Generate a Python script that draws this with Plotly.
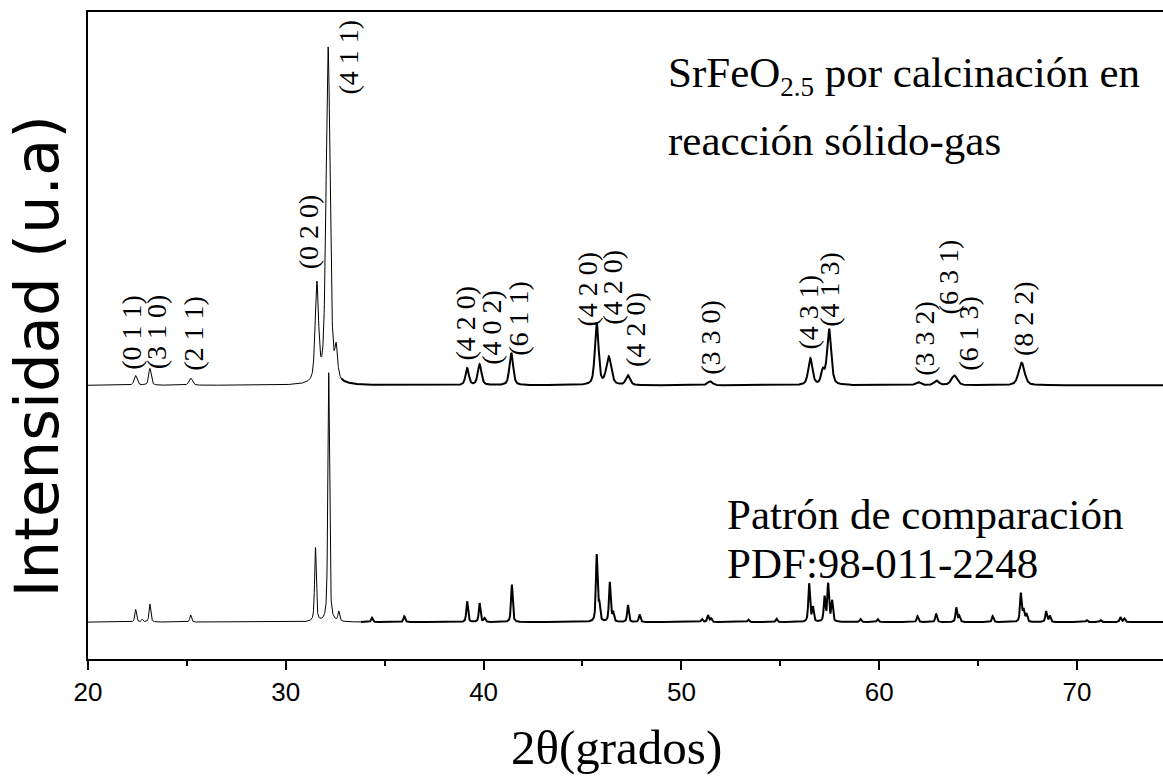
import numpy as np
import plotly.graph_objects as go

# ---- data -------------------------------------------------------------
# 2θ axis (degrees)
two_theta = np.arange(20.0, 74.40, 0.01)

# SrFeO2.5 sample obtained by solid–gas calcination: peak list
muestra_pos = [22.41, 23.13, 25.19, 31.57, 32.14, 32.55, 39.17, 39.80, 41.40,
               45.72, 46.33, 47.30, 51.45, 56.52, 57.15, 57.47, 61.97, 62.90,
               63.80, 67.20]
muestra_int = [1.5, 2.6, 1.1, 15.0, 52.0, 4.5, 2.6, 3.2, 5.0,
               9.6, 4.3, 1.5, 0.6, 4.1, 2.0, 8.6, 0.5, 0.7,
               1.5, 3.5]
muestra_fwhm = [0.18, 0.15, 0.20, 0.20, 0.24, 0.16, 0.20, 0.22, 0.22,
                0.22, 0.30, 0.25, 0.30, 0.25, 0.20, 0.25, 0.30, 0.30,
                0.35, 0.35]
muestra_fondo = 42.3

# Reference pattern PDF:98-011-2248: peak list
patron_pos = [22.41, 22.74, 23.13, 25.19, 31.50, 32.17, 32.68, 34.36, 35.99,
              39.17, 39.80, 40.05, 41.43, 45.72, 45.85, 46.38, 46.55, 47.30,
              47.89, 51.04, 51.35, 51.50, 53.39, 54.81, 56.46, 56.65, 57.24,
              57.42, 57.62, 59.06, 59.93, 61.94, 62.88, 63.90, 64.05, 65.74,
              67.16, 67.30, 67.45, 68.44, 68.63, 70.50, 71.20, 72.20, 72.40]
patron_int = [1.95, 0.40, 2.80, 1.10, 11.4, 38.5, 1.50, 0.65, 0.90,
              3.20, 2.90, 0.60, 5.80, 10.3, 2.50, 6.10, 1.40, 2.60,
              1.15, 0.45, 1.05, 0.55, 0.37, 0.52, 5.90, 2.20, 3.80,
              5.80, 3.20, 0.46, 0.46, 0.92, 1.30, 2.20, 0.90, 0.92,
              4.40, 1.80, 1.20, 1.65, 0.95, 0.30, 0.30, 0.75, 0.55]
patron_fondo = 5.7
patron_fwhm = 0.10

# Miller indices written over the sample pattern
hkl_texto = ["(0 1 1)", "(3 1 0)", "(2 1 1)", "(0 2 0)", "(4 1 1)", "(4 2 0)",
             "(4 0 2)", "(6 1 1)", "(4 2 0)", "(4 2 0)", "(4 2 0)", "(3 3 0)",
             "(4 3 1)", "(4 1 3)", "(3 3 2)", "(6 3 1)", "(6 1 3)", "(8 2 2)"]
# label anchor (2θ, bottom of the rotated text in intensity units)
hkl_x = [22.20, 23.44, 25.32, 31.19, 33.16, 39.11, 40.36, 41.75, 45.26,
         46.53, 47.65, 51.47, 56.42, 57.51, 62.32, 63.49, 64.50, 67.29]
hkl_y = [44.4, 44.4, 44.2, 59.9, 86.9, 45.9, 45.2, 46.5, 51.1,
         51.4, 44.9, 43.6, 47.5, 51.1, 43.4, 52.9, 44.2, 46.5]


def pseudo_voigt(x, centros, alturas, anchos, eta=0.5):
    y = np.zeros_like(x)
    anchos = np.broadcast_to(anchos, (len(centros),))
    for c, h, w in zip(centros, alturas, anchos):
        d = (x - c) / (w / 2.0)
        lor = 1.0 / (1.0 + d * d)
        gau = np.exp(-np.log(2.0) * d * d)
        y += h * (eta * lor + (1 - eta) * gau)
    return y


y_muestra = muestra_fondo + pseudo_voigt(two_theta, muestra_pos, muestra_int, muestra_fwhm)
y_patron = patron_fondo + pseudo_voigt(two_theta, patron_pos, patron_int, patron_fwhm, eta=0.6)

fig = go.Figure()


def add_split(y, corte):
    left = two_theta <= corte + 0.005
    right = two_theta >= corte - 0.005
    fig.add_trace(go.Scatter(x=two_theta[left], y=y[left], mode="lines",
                             line=dict(color="black", width=1), showlegend=False,
                             hoverinfo="skip"))
    fig.add_trace(go.Scatter(x=two_theta[right], y=y[right], mode="lines",
                             line=dict(color="black", width=2), showlegend=False,
                             hoverinfo="skip"))


add_split(y_patron, 33.8)
add_split(y_muestra, 32.8)

serif = "Liberation Serif, Times New Roman, serif"
sans = "Arial, Liberation Sans, sans-serif"

annotations = []
for t, x, y in zip(hkl_texto, hkl_x, hkl_y):
    annotations.append(dict(x=x, y=y, xref="x", yref="y", text=t, showarrow=False,
                            textangle=-90, xanchor="center", yanchor="bottom",
                            font=dict(family=serif, size=28, color="black")))

annotations += [
    dict(x=0.5377, y=0.9026, xref="paper", yref="paper", xanchor="left", yanchor="middle",
         text="SrFeO<sub><span style='font-size:27px'>2.5</span></sub> por calcinación en",
         showarrow=False, font=dict(family=serif, size=43, color="black")),
    dict(x=0.5377, y=0.802, xref="paper", yref="paper", xanchor="left", yanchor="middle",
         text="reacción sólido-gas",
         showarrow=False, font=dict(family=serif, size=43, color="black")),
    dict(x=0.5926, y=0.2226, xref="paper", yref="paper", xanchor="left", yanchor="middle",
         text="Patrón de comparación",
         showarrow=False, font=dict(family=serif, size=43, color="black")),
    dict(x=0.5926, y=0.148, xref="paper", yref="paper", xanchor="left", yanchor="middle",
         text="PDF:98-011-2248",
         showarrow=False, font=dict(family=serif, size=43, color="black")),
    dict(x=0.492, y=-0.137, xref="paper", yref="paper", xanchor="center", yanchor="middle",
         text="2θ(grados)", showarrow=False,
         font=dict(family=serif, size=49, color="black")),
    dict(x=-0.048, y=0.468, xref="paper", yref="paper", xanchor="center", yanchor="middle",
         text="Intensidad (u.a)", textangle=-90, showarrow=False,
         font=dict(family="DejaVu Sans, sans-serif", size=61, color="black")),
]

fig.update_layout(
    width=1163, height=776,
    margin=dict(l=88, r=0, t=12, b=117),
    paper_bgcolor="white", plot_bgcolor="white",
    showlegend=False,
    annotations=annotations,
    xaxis=dict(range=[20, 74.35], tickmode="array", tickvals=[20, 30, 40, 50, 60, 70],
               ticks="outside", ticklen=9, tickwidth=1.5, tickcolor="black",
               minor=dict(tickvals=[25, 35, 45, 55, 65], ticks="outside", ticklen=5,
                          tickwidth=1.5, tickcolor="black"),
               showline=True, linewidth=2, linecolor="black", mirror=True,
               showgrid=False, zeroline=False,
               tickfont=dict(family=sans, size=26, color="black")),
    yaxis=dict(range=[0, 100], showticklabels=False, ticks="",
               showline=True, linewidth=2, linecolor="black", mirror=False,
               showgrid=False, zeroline=False),
)

fig.write_html("out.html")
